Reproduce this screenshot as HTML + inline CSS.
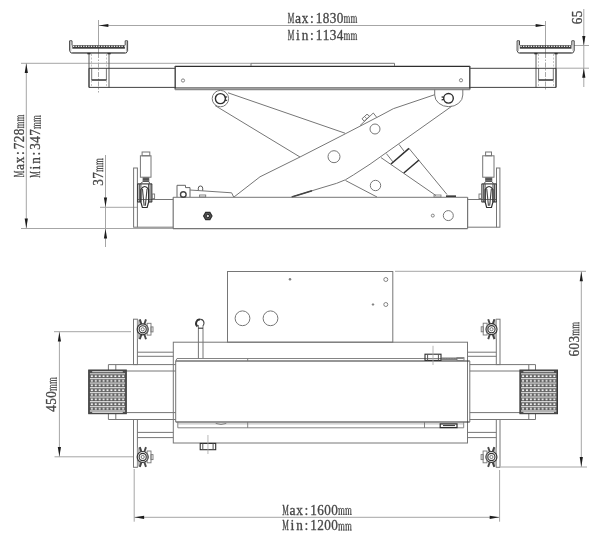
<!DOCTYPE html>
<html><head><meta charset="utf-8"><title>Jack dimensions</title>
<style>html,body{margin:0;padding:0;background:#fff;}body{width:600px;height:544px;overflow:hidden;font-family:"Liberation Serif",serif;}svg{display:block;filter:grayscale(1);}</style>
</head><body>
<svg width="600" height="544" viewBox="0 0 600 544">
<line x1="98.5" y1="20" x2="98.5" y2="53" stroke="#a6a6a6" stroke-width="1"/>
<line x1="545.5" y1="21" x2="545.5" y2="53" stroke="#a6a6a6" stroke-width="1"/>
<line x1="98.5" y1="53" x2="98.5" y2="92.5" stroke="#aaa" stroke-width="1" stroke-dasharray="5 1.5 1.5 1.5"/>
<line x1="545.5" y1="53" x2="545.5" y2="91" stroke="#aaa" stroke-width="1" stroke-dasharray="5 1.5 1.5 1.5"/>
<line x1="91.5" y1="54" x2="91.5" y2="68" stroke="#c4c4c4" stroke-width="1" stroke-dasharray="2 1.5"/>
<line x1="91.5" y1="80.5" x2="91.5" y2="87" stroke="#c4c4c4" stroke-width="1" stroke-dasharray="2 1.5"/>
<line x1="106.5" y1="54" x2="106.5" y2="68" stroke="#c4c4c4" stroke-width="1" stroke-dasharray="2 1.5"/>
<line x1="106.5" y1="80.5" x2="106.5" y2="87" stroke="#c4c4c4" stroke-width="1" stroke-dasharray="2 1.5"/>
<line x1="538.5" y1="54" x2="538.5" y2="68" stroke="#c4c4c4" stroke-width="1" stroke-dasharray="2 1.5"/>
<line x1="538.5" y1="80.5" x2="538.5" y2="87" stroke="#c4c4c4" stroke-width="1" stroke-dasharray="2 1.5"/>
<line x1="553.5" y1="54" x2="553.5" y2="68" stroke="#c4c4c4" stroke-width="1" stroke-dasharray="2 1.5"/>
<line x1="553.5" y1="80.5" x2="553.5" y2="87" stroke="#c4c4c4" stroke-width="1" stroke-dasharray="2 1.5"/>
<line x1="98.5" y1="25.5" x2="545.5" y2="25.5" stroke="#a6a6a6" stroke-width="1"/>
<polygon points="98.8,25.5 108.39999999999999,23.9 108.39999999999999,27.1" fill="#1c1c1c" stroke="none"/>
<polygon points="545.2,25.5 535.6,23.9 535.6,27.1" fill="#1c1c1c" stroke="none"/>
<g transform="translate(287.5,22.5)" fill="#444" stroke="#444" stroke-width="0.3" opacity="0.99" font-family="'Liberation Serif', serif"><text transform="translate(3.50,0) scale(0.546,1)" text-anchor="middle" font-size="13.6">M</text><text transform="translate(10.50,0) scale(1.000,1)" text-anchor="middle" font-size="13.6">a</text><text transform="translate(17.50,0) scale(0.971,1)" text-anchor="middle" font-size="13.6">x</text><text transform="translate(24.50,0) scale(1.000,1)" text-anchor="middle" font-size="13.6">:</text><text transform="translate(31.50,0) scale(0.971,1)" text-anchor="middle" font-size="13.6">1</text><text transform="translate(38.50,0) scale(0.971,1)" text-anchor="middle" font-size="13.6">8</text><text transform="translate(45.50,0) scale(0.971,1)" text-anchor="middle" font-size="13.6">3</text><text transform="translate(52.50,0) scale(0.971,1)" text-anchor="middle" font-size="13.6">0</text><path transform="translate(56.00,0)" d="M0.2,-5.9 L1.2,-6.1 L1.2,0 M1.2,-4.9 Q1.9,-6.3 2.7,-6.2 Q3.5,-6.1 3.5,-4.9 L3.5,0 M3.5,-4.9 Q4.2,-6.3 5,-6.2 Q5.8,-6.1 5.8,-4.9 L5.8,0 M0.3,-0.1 L2.1,-0.1 M2.7,-0.1 L4.3,-0.1 M5,-0.1 L6.7,-0.1" fill="none" stroke="#444" stroke-width="0.95"/><path transform="translate(63.00,0)" d="M0.2,-5.9 L1.2,-6.1 L1.2,0 M1.2,-4.9 Q1.9,-6.3 2.7,-6.2 Q3.5,-6.1 3.5,-4.9 L3.5,0 M3.5,-4.9 Q4.2,-6.3 5,-6.2 Q5.8,-6.1 5.8,-4.9 L5.8,0 M0.3,-0.1 L2.1,-0.1 M2.7,-0.1 L4.3,-0.1 M5,-0.1 L6.7,-0.1" fill="none" stroke="#444" stroke-width="0.95"/></g>
<g transform="translate(287.5,39.7)" fill="#444" stroke="#444" stroke-width="0.3" opacity="0.99" font-family="'Liberation Serif', serif"><text transform="translate(3.50,0) scale(0.546,1)" text-anchor="middle" font-size="13.6">M</text><text transform="translate(10.50,0) scale(1.000,1)" text-anchor="middle" font-size="13.6">i</text><text transform="translate(17.50,0) scale(0.971,1)" text-anchor="middle" font-size="13.6">n</text><text transform="translate(24.50,0) scale(1.000,1)" text-anchor="middle" font-size="13.6">:</text><text transform="translate(31.50,0) scale(0.971,1)" text-anchor="middle" font-size="13.6">1</text><text transform="translate(38.50,0) scale(0.971,1)" text-anchor="middle" font-size="13.6">1</text><text transform="translate(45.50,0) scale(0.971,1)" text-anchor="middle" font-size="13.6">3</text><text transform="translate(52.50,0) scale(0.971,1)" text-anchor="middle" font-size="13.6">4</text><path transform="translate(56.00,0)" d="M0.2,-5.9 L1.2,-6.1 L1.2,0 M1.2,-4.9 Q1.9,-6.3 2.7,-6.2 Q3.5,-6.1 3.5,-4.9 L3.5,0 M3.5,-4.9 Q4.2,-6.3 5,-6.2 Q5.8,-6.1 5.8,-4.9 L5.8,0 M0.3,-0.1 L2.1,-0.1 M2.7,-0.1 L4.3,-0.1 M5,-0.1 L6.7,-0.1" fill="none" stroke="#444" stroke-width="0.95"/><path transform="translate(63.00,0)" d="M0.2,-5.9 L1.2,-6.1 L1.2,0 M1.2,-4.9 Q1.9,-6.3 2.7,-6.2 Q3.5,-6.1 3.5,-4.9 L3.5,0 M3.5,-4.9 Q4.2,-6.3 5,-6.2 Q5.8,-6.1 5.8,-4.9 L5.8,0 M0.3,-0.1 L2.1,-0.1 M2.7,-0.1 L4.3,-0.1 M5,-0.1 L6.7,-0.1" fill="none" stroke="#444" stroke-width="0.95"/></g>
<line x1="21" y1="63.3" x2="251" y2="63.3" stroke="#a6a6a6" stroke-width="1"/>
<line x1="21" y1="228.5" x2="173" y2="228.5" stroke="#a6a6a6" stroke-width="1"/>
<line x1="26.3" y1="63" x2="26.3" y2="228.5" stroke="#a6a6a6" stroke-width="1"/>
<polygon points="26.3,63.5 24.7,73.1 27.900000000000002,73.1" fill="#1c1c1c" stroke="none"/>
<polygon points="26.3,228.2 24.7,218.6 27.900000000000002,218.6" fill="#1c1c1c" stroke="none"/>
<g transform="translate(23.8,177.5) rotate(-90)" fill="#444" stroke="#444" stroke-width="0.3" opacity="0.99" font-family="'Liberation Serif', serif"><text transform="translate(3.50,0) scale(0.546,1)" text-anchor="middle" font-size="13.6">M</text><text transform="translate(10.50,0) scale(1.000,1)" text-anchor="middle" font-size="13.6">a</text><text transform="translate(17.50,0) scale(0.971,1)" text-anchor="middle" font-size="13.6">x</text><text transform="translate(24.50,0) scale(1.000,1)" text-anchor="middle" font-size="13.6">:</text><text transform="translate(31.50,0) scale(0.971,1)" text-anchor="middle" font-size="13.6">7</text><text transform="translate(38.50,0) scale(0.971,1)" text-anchor="middle" font-size="13.6">2</text><text transform="translate(45.50,0) scale(0.971,1)" text-anchor="middle" font-size="13.6">8</text><path transform="translate(49.00,0)" d="M0.2,-5.9 L1.2,-6.1 L1.2,0 M1.2,-4.9 Q1.9,-6.3 2.7,-6.2 Q3.5,-6.1 3.5,-4.9 L3.5,0 M3.5,-4.9 Q4.2,-6.3 5,-6.2 Q5.8,-6.1 5.8,-4.9 L5.8,0 M0.3,-0.1 L2.1,-0.1 M2.7,-0.1 L4.3,-0.1 M5,-0.1 L6.7,-0.1" fill="none" stroke="#444" stroke-width="0.95"/><path transform="translate(56.00,0)" d="M0.2,-5.9 L1.2,-6.1 L1.2,0 M1.2,-4.9 Q1.9,-6.3 2.7,-6.2 Q3.5,-6.1 3.5,-4.9 L3.5,0 M3.5,-4.9 Q4.2,-6.3 5,-6.2 Q5.8,-6.1 5.8,-4.9 L5.8,0 M0.3,-0.1 L2.1,-0.1 M2.7,-0.1 L4.3,-0.1 M5,-0.1 L6.7,-0.1" fill="none" stroke="#444" stroke-width="0.95"/></g>
<g transform="translate(40.4,178) rotate(-90)" fill="#444" stroke="#444" stroke-width="0.3" opacity="0.99" font-family="'Liberation Serif', serif"><text transform="translate(3.50,0) scale(0.546,1)" text-anchor="middle" font-size="13.6">M</text><text transform="translate(10.50,0) scale(1.000,1)" text-anchor="middle" font-size="13.6">i</text><text transform="translate(17.50,0) scale(0.971,1)" text-anchor="middle" font-size="13.6">n</text><text transform="translate(24.50,0) scale(1.000,1)" text-anchor="middle" font-size="13.6">:</text><text transform="translate(31.50,0) scale(0.971,1)" text-anchor="middle" font-size="13.6">3</text><text transform="translate(38.50,0) scale(0.971,1)" text-anchor="middle" font-size="13.6">4</text><text transform="translate(45.50,0) scale(0.971,1)" text-anchor="middle" font-size="13.6">7</text><path transform="translate(49.00,0)" d="M0.2,-5.9 L1.2,-6.1 L1.2,0 M1.2,-4.9 Q1.9,-6.3 2.7,-6.2 Q3.5,-6.1 3.5,-4.9 L3.5,0 M3.5,-4.9 Q4.2,-6.3 5,-6.2 Q5.8,-6.1 5.8,-4.9 L5.8,0 M0.3,-0.1 L2.1,-0.1 M2.7,-0.1 L4.3,-0.1 M5,-0.1 L6.7,-0.1" fill="none" stroke="#444" stroke-width="0.95"/><path transform="translate(56.00,0)" d="M0.2,-5.9 L1.2,-6.1 L1.2,0 M1.2,-4.9 Q1.9,-6.3 2.7,-6.2 Q3.5,-6.1 3.5,-4.9 L3.5,0 M3.5,-4.9 Q4.2,-6.3 5,-6.2 Q5.8,-6.1 5.8,-4.9 L5.8,0 M0.3,-0.1 L2.1,-0.1 M2.7,-0.1 L4.3,-0.1 M5,-0.1 L6.7,-0.1" fill="none" stroke="#444" stroke-width="0.95"/></g>
<line x1="105.5" y1="155" x2="105.5" y2="247" stroke="#a6a6a6" stroke-width="1"/>
<line x1="100" y1="207.3" x2="137.5" y2="207.3" stroke="#a6a6a6" stroke-width="1"/>
<polygon points="105.5,207 103.9,197.4 107.1,197.4" fill="#1c1c1c" stroke="none"/>
<polygon points="105.5,228.8 103.9,238.4 107.1,238.4" fill="#1c1c1c" stroke="none"/>
<g transform="translate(102.9,186) rotate(-90)" fill="#444" stroke="#444" stroke-width="0.3" opacity="0.99" font-family="'Liberation Serif', serif"><text transform="translate(3.50,0) scale(0.971,1)" text-anchor="middle" font-size="13.6">3</text><text transform="translate(10.50,0) scale(0.971,1)" text-anchor="middle" font-size="13.6">7</text><path transform="translate(14.00,0)" d="M0.2,-5.9 L1.2,-6.1 L1.2,0 M1.2,-4.9 Q1.9,-6.3 2.7,-6.2 Q3.5,-6.1 3.5,-4.9 L3.5,0 M3.5,-4.9 Q4.2,-6.3 5,-6.2 Q5.8,-6.1 5.8,-4.9 L5.8,0 M0.3,-0.1 L2.1,-0.1 M2.7,-0.1 L4.3,-0.1 M5,-0.1 L6.7,-0.1" fill="none" stroke="#444" stroke-width="0.95"/><path transform="translate(21.00,0)" d="M0.2,-5.9 L1.2,-6.1 L1.2,0 M1.2,-4.9 Q1.9,-6.3 2.7,-6.2 Q3.5,-6.1 3.5,-4.9 L3.5,0 M3.5,-4.9 Q4.2,-6.3 5,-6.2 Q5.8,-6.1 5.8,-4.9 L5.8,0 M0.3,-0.1 L2.1,-0.1 M2.7,-0.1 L4.3,-0.1 M5,-0.1 L6.7,-0.1" fill="none" stroke="#444" stroke-width="0.95"/></g>
<line x1="583.8" y1="9" x2="583.8" y2="87" stroke="#a6a6a6" stroke-width="1"/>
<line x1="574" y1="45.5" x2="589" y2="45.5" stroke="#a6a6a6" stroke-width="1"/>
<line x1="556" y1="68.2" x2="589" y2="68.2" stroke="#a6a6a6" stroke-width="1"/>
<polygon points="583.8,45.6 582.1999999999999,36.0 585.4,36.0" fill="#1c1c1c" stroke="none"/>
<polygon points="583.8,68.2 582.1999999999999,77.8 585.4,77.8" fill="#1c1c1c" stroke="none"/>
<g transform="translate(581.5,24.5) rotate(-90)" fill="#444" stroke="#444" stroke-width="0.3" opacity="0.99" font-family="'Liberation Serif', serif"><text transform="translate(3.50,0) scale(0.971,1)" text-anchor="middle" font-size="13.6">6</text><text transform="translate(10.50,0) scale(0.971,1)" text-anchor="middle" font-size="13.6">5</text></g>
<polyline points="72.0,45.3 72.0,40.8 69.60000000000001,40.8 69.60000000000001,50.8 71.0,53 126.2,53 127.6,50.8 127.6,40.8 125.2,40.8 125.2,45.3" fill="none" stroke="#444" stroke-width="1.0" stroke-linejoin="round"/>
<line x1="70.80000000000001" y1="41.5" x2="70.80000000000001" y2="51" stroke="#999" stroke-width="0.8"/>
<line x1="126.39999999999999" y1="41.5" x2="126.39999999999999" y2="51" stroke="#999" stroke-width="0.8"/>
<rect x="72.30000000000001" y="45.2" width="52.599999999999994" height="3.5" fill="#3c3c3c" stroke="none"/>
<line x1="73.0" y1="46.4" x2="124.6" y2="46.4" stroke="#eee" stroke-width="1.1" stroke-dasharray="1.3 1.25"/>
<line x1="72.30000000000001" y1="52.9" x2="124.89999999999999" y2="52.9" stroke="#333" stroke-width="0.6"/>
<polyline points="519.5,45.3 519.5,40.8 517.1,40.8 517.1,50.8 518.5,53 572.8,53 574.1999999999999,50.8 574.1999999999999,40.8 571.8,40.8 571.8,45.3" fill="none" stroke="#444" stroke-width="1.0" stroke-linejoin="round"/>
<line x1="518.3" y1="41.5" x2="518.3" y2="51" stroke="#999" stroke-width="0.8"/>
<line x1="573.0" y1="41.5" x2="573.0" y2="51" stroke="#999" stroke-width="0.8"/>
<rect x="519.8" y="45.2" width="51.7" height="3.5" fill="#3c3c3c" stroke="none"/>
<line x1="520.5" y1="46.4" x2="571.1999999999999" y2="46.4" stroke="#eee" stroke-width="1.1" stroke-dasharray="1.3 1.25"/>
<line x1="519.8" y1="52.9" x2="571.5" y2="52.9" stroke="#333" stroke-width="0.6"/>
<line x1="89" y1="53" x2="89" y2="87.5" stroke="#5a5a5a" stroke-width="1"/>
<line x1="109" y1="53" x2="109" y2="87.5" stroke="#5a5a5a" stroke-width="1"/>
<line x1="87.3" y1="53.6" x2="90.5" y2="53.6" stroke="#2e2e2e" stroke-width="1.4"/>
<line x1="107.5" y1="53.6" x2="110.7" y2="53.6" stroke="#2e2e2e" stroke-width="1.4"/>
<polyline points="91.7,68.3 91.7,80 106.4,80 106.4,68.3" fill="none" stroke="#767676" stroke-width="1" stroke-linejoin="round"/>
<line x1="91.7" y1="80" x2="106.4" y2="80" stroke="#2e2e2e" stroke-width="1.2"/>
<line x1="89" y1="68.3" x2="175" y2="68.3" stroke="#2e2e2e" stroke-width="0.9"/>
<line x1="89" y1="87.4" x2="175" y2="87.4" stroke="#2e2e2e" stroke-width="0.9"/>
<line x1="89" y1="68.3" x2="89" y2="87.4" stroke="#2e2e2e" stroke-width="0.9"/>
<line x1="536" y1="53" x2="536" y2="87.5" stroke="#5a5a5a" stroke-width="1"/>
<line x1="556" y1="53" x2="556" y2="87.5" stroke="#5a5a5a" stroke-width="1"/>
<line x1="534.3" y1="53.6" x2="537.5" y2="53.6" stroke="#2e2e2e" stroke-width="1.4"/>
<line x1="554.5" y1="53.6" x2="557.7" y2="53.6" stroke="#2e2e2e" stroke-width="1.4"/>
<polyline points="538.6,68.3 538.6,80 553.3,80 553.3,68.3" fill="none" stroke="#767676" stroke-width="1" stroke-linejoin="round"/>
<line x1="538.6" y1="80" x2="553.3" y2="80" stroke="#2e2e2e" stroke-width="1.2"/>
<line x1="470" y1="68.3" x2="556" y2="68.3" stroke="#2e2e2e" stroke-width="0.9"/>
<line x1="470" y1="87.4" x2="556" y2="87.4" stroke="#2e2e2e" stroke-width="0.9"/>
<line x1="556" y1="68.3" x2="556" y2="87.4" stroke="#2e2e2e" stroke-width="0.9"/>
<line x1="175" y1="66.3" x2="470" y2="66.3" stroke="#2e2e2e" stroke-width="1.3"/>
<line x1="175.2" y1="66" x2="175.2" y2="89.5" stroke="#444" stroke-width="1.4"/>
<line x1="469.8" y1="66" x2="469.8" y2="89.5" stroke="#444" stroke-width="1.4"/>
<line x1="175" y1="87.9" x2="470" y2="87.9" stroke="#2e2e2e" stroke-width="0.9"/>
<line x1="175" y1="89.4" x2="470" y2="89.4" stroke="#888" stroke-width="1.8"/>
<polyline points="251,66 251,63.3 394.5,63.3 394.5,66" fill="none" stroke="#767676" stroke-width="1" stroke-linejoin="round"/>
<circle cx="183" cy="80.5" r="1.6" fill="none" stroke="#767676" stroke-width="0.9"/>
<circle cx="461" cy="80.3" r="1.6" fill="none" stroke="#767676" stroke-width="0.9"/>
<circle cx="220.4" cy="98.6" r="8.2" fill="none" stroke="#767676" stroke-width="1"/>
<circle cx="220.4" cy="98.6" r="5" fill="none" stroke="#2e2e2e" stroke-width="1.4"/>
<line x1="224.8" y1="97.2" x2="227" y2="96.9" stroke="#2e2e2e" stroke-width="1.1"/>
<line x1="224.8" y1="100.2" x2="227" y2="100.4" stroke="#2e2e2e" stroke-width="1.1"/>
<path d="M434.7,89.5 L434.7,95 A14.05,11.7 0 0 0 462.8,95 L462.8,89.5" fill="none" stroke="#767676" stroke-width="1"/>
<line x1="441.6" y1="96.8" x2="444" y2="97.3" stroke="#2e2e2e" stroke-width="1.2"/>
<line x1="441.6" y1="99.8" x2="444" y2="99.4" stroke="#2e2e2e" stroke-width="1.2"/>
<circle cx="448.5" cy="98.3" r="4.8" fill="none" stroke="#2e2e2e" stroke-width="1.4"/>
<line x1="228" y1="92.8" x2="345" y2="133.2" stroke="#767676" stroke-width="1"/>
<line x1="215" y1="105.5" x2="300" y2="157" stroke="#767676" stroke-width="1"/>
<line x1="345.5" y1="180.5" x2="377" y2="197" stroke="#767676" stroke-width="1"/>
<polyline points="234,197 260,176.8 300,157 343,135 380,115.8 393.3,108.7 434.7,94.7" fill="none" stroke="#767676" stroke-width="1" stroke-linejoin="round"/>
<path d="M291.7,197 L320,188.3 L336.7,183.3 Q346,180.3 353.3,175 L370,164.2 L451.7,106.3" fill="none" stroke="#767676" stroke-width="1"/>
<line x1="291.7" y1="197" x2="312" y2="190.8" stroke="#444" stroke-width="1.5"/>
<circle cx="334" cy="156.7" r="6" fill="none" stroke="#767676" stroke-width="1"/>
<circle cx="375" cy="129" r="5" fill="none" stroke="#767676" stroke-width="1"/>
<circle cx="375.5" cy="185.5" r="5.2" fill="none" stroke="#767676" stroke-width="1"/>
<polyline points="360,125.6 373.3,113 376.7,117.3" fill="none" stroke="#767676" stroke-width="1" stroke-linejoin="round"/>
<polygon points="362,118.75 367,114.2 369.6,116.25 364.2,121.25" fill="none" stroke="#767676" stroke-width="1" stroke-linejoin="round"/>
<line x1="364.5" y1="116.5" x2="366.9" y2="118.8" stroke="#767676" stroke-width="0.8"/>
<line x1="381" y1="157.6" x2="436" y2="195.6" stroke="#767676" stroke-width="1"/>
<line x1="409" y1="148.4" x2="447" y2="194.5" stroke="#767676" stroke-width="1"/>
<line x1="391" y1="164" x2="409" y2="148.4" stroke="#2e2e2e" stroke-width="1.5"/>
<line x1="403.8" y1="173" x2="419" y2="160" stroke="#2e2e2e" stroke-width="1.5"/>
<line x1="386.4" y1="153.6" x2="393" y2="162" stroke="#767676" stroke-width="1"/>
<line x1="399" y1="144.4" x2="404.3" y2="151.5" stroke="#767676" stroke-width="1"/>
<rect x="434" y="195" width="7" height="2" fill="none" stroke="#767676" stroke-width="0.8"/>
<line x1="446" y1="196.2" x2="456" y2="196.2" stroke="#2e2e2e" stroke-width="1.6"/>
<line x1="173" y1="197.3" x2="467.6" y2="197.3" stroke="#767676" stroke-width="1"/>
<line x1="173" y1="228.6" x2="467.6" y2="228.6" stroke="#767676" stroke-width="1.2"/>
<line x1="173.2" y1="197.3" x2="173.2" y2="228.6" stroke="#767676" stroke-width="1.2"/>
<line x1="467.6" y1="197.3" x2="467.6" y2="228.6" stroke="#767676" stroke-width="1.2"/>
<circle cx="448.3" cy="215.6" r="5" fill="none" stroke="#767676" stroke-width="1"/>
<circle cx="432.8" cy="215.6" r="1.5" fill="none" stroke="#767676" stroke-width="0.9"/>
<g transform="translate(207.8,216)"><polygon points="4.2,0 2.1,3.6 -2.1,3.6 -4.2,0 -2.1,-3.6 2.1,-3.6" fill="#555" stroke="#2e2e2e" stroke-width="1.2"/><circle r="1.7" fill="#ddd" stroke="#222" stroke-width="1"/></g>
<polyline points="177,197 177,185.3 185.5,185.3 185.5,187.6 190,187.6 190,197" fill="none" stroke="#666" stroke-width="1" stroke-linejoin="round"/>
<circle cx="183.3" cy="194.5" r="2.8" fill="none" stroke="#444" stroke-width="1.4"/>
<path d="M198.3,190.6 L198.3,188.2 A2.2,2.2 0 0 1 202.7,188.2 L202.7,190.9" fill="none" stroke="#555" stroke-width="1"/>
<polyline points="190,190 231.6,192.8 233.7,197" fill="none" stroke="#767676" stroke-width="1" stroke-linejoin="round"/>
<rect x="199.6" y="195" width="6.099999999999994" height="2" fill="none" stroke="#767676" stroke-width="0.9"/>
<rect x="133.6" y="168" width="3.8000000000000114" height="59.19999999999999" fill="none" stroke="#767676" stroke-width="1"/>
<line x1="137.4" y1="199.5" x2="173.2" y2="199.5" stroke="#767676" stroke-width="1"/>
<line x1="137.4" y1="227.2" x2="173.2" y2="227.2" stroke="#767676" stroke-width="1"/>
<line x1="137.4" y1="183.9" x2="152.1" y2="183.9" stroke="#2e2e2e" stroke-width="1.1"/>
<line x1="137.70000000000002" y1="183.9" x2="137.70000000000002" y2="202" stroke="#333" stroke-width="1.1"/>
<line x1="151.79999999999998" y1="183.9" x2="151.79999999999998" y2="202" stroke="#333" stroke-width="1.1"/>
<line x1="139.4" y1="183.9" x2="139.4" y2="202" stroke="#555" stroke-width="1.0"/>
<line x1="150.1" y1="183.9" x2="150.1" y2="202" stroke="#555" stroke-width="1.0"/>
<line x1="140.9" y1="183.9" x2="140.9" y2="202" stroke="#444" stroke-width="1.0"/>
<line x1="148.6" y1="183.9" x2="148.6" y2="202" stroke="#444" stroke-width="1.0"/>
<line x1="137.4" y1="202" x2="140.9" y2="202" stroke="#2e2e2e" stroke-width="1"/>
<line x1="148.6" y1="202" x2="152.1" y2="202" stroke="#2e2e2e" stroke-width="1"/>
<path d="M140.85,202 L140.85,189.5 Q144.75,183.5 148.65,189.5 L148.65,202 L147.15,207.5 L142.35,207.5 Z" fill="none" stroke="#2e2e2e" stroke-width="1.2"/>
<line x1="142.45" y1="189" x2="144.15" y2="205.8" stroke="#444" stroke-width="1.1"/>
<line x1="147.05" y1="189" x2="145.35" y2="205.8" stroke="#444" stroke-width="1.1"/>
<polyline points="142.7,182 139.9,183.9" fill="none" stroke="#555" stroke-width="1" stroke-linejoin="round"/>
<polyline points="149.2,182 149.6,183.9" fill="none" stroke="#555" stroke-width="1" stroke-linejoin="round"/>
<rect x="142.7" y="177.4" width="6.5" height="4.4" fill="#333" stroke="none"/>
<line x1="142.7" y1="178.9" x2="149.2" y2="178.9" stroke="#bbb" stroke-width="0.5"/>
<line x1="142.7" y1="180.4" x2="149.2" y2="180.4" stroke="#bbb" stroke-width="0.5"/>
<rect x="140.4" y="155.8" width="10.599999999999994" height="21.399999999999977" fill="none" stroke="#767676" stroke-width="1"/>
<rect x="142.1" y="152" width="7.700000000000017" height="3.8000000000000114" fill="none" stroke="#767676" stroke-width="1"/>
<rect x="152.1" y="194" width="2.5" height="4.599999999999994" fill="none" stroke="#767676" stroke-width="0.9"/>
<rect x="496.5" y="168" width="3.3999999999999773" height="59.19999999999999" fill="none" stroke="#767676" stroke-width="1"/>
<line x1="467.6" y1="199.5" x2="496.5" y2="199.5" stroke="#767676" stroke-width="1"/>
<line x1="467.6" y1="227.2" x2="496.5" y2="227.2" stroke="#767676" stroke-width="1"/>
<line x1="481.6" y1="183.9" x2="496.5" y2="183.9" stroke="#2e2e2e" stroke-width="1.1"/>
<line x1="481.90000000000003" y1="183.9" x2="481.90000000000003" y2="202" stroke="#333" stroke-width="1.1"/>
<line x1="496.2" y1="183.9" x2="496.2" y2="202" stroke="#333" stroke-width="1.1"/>
<line x1="483.6" y1="183.9" x2="483.6" y2="202" stroke="#555" stroke-width="1.0"/>
<line x1="494.5" y1="183.9" x2="494.5" y2="202" stroke="#555" stroke-width="1.0"/>
<line x1="485.1" y1="183.9" x2="485.1" y2="202" stroke="#444" stroke-width="1.0"/>
<line x1="493.0" y1="183.9" x2="493.0" y2="202" stroke="#444" stroke-width="1.0"/>
<line x1="481.6" y1="202" x2="485.1" y2="202" stroke="#2e2e2e" stroke-width="1"/>
<line x1="493.0" y1="202" x2="496.5" y2="202" stroke="#2e2e2e" stroke-width="1"/>
<path d="M485.15000000000003,202 L485.15000000000003,189.5 Q489.05,183.5 492.95,189.5 L492.95,202 L491.45,207.5 L486.65000000000003,207.5 Z" fill="none" stroke="#2e2e2e" stroke-width="1.2"/>
<line x1="486.75" y1="189" x2="488.45" y2="205.8" stroke="#444" stroke-width="1.1"/>
<line x1="491.35" y1="189" x2="489.65000000000003" y2="205.8" stroke="#444" stroke-width="1.1"/>
<polyline points="485.2,182 484.1,183.9" fill="none" stroke="#555" stroke-width="1" stroke-linejoin="round"/>
<polyline points="492.2,182 494.0,183.9" fill="none" stroke="#555" stroke-width="1" stroke-linejoin="round"/>
<rect x="485.2" y="177.4" width="7.0" height="4.4" fill="#333" stroke="none"/>
<line x1="485.2" y1="178.9" x2="492.2" y2="178.9" stroke="#bbb" stroke-width="0.5"/>
<line x1="485.2" y1="180.4" x2="492.2" y2="180.4" stroke="#bbb" stroke-width="0.5"/>
<rect x="482.7" y="155.8" width="11.300000000000011" height="21.399999999999977" fill="none" stroke="#767676" stroke-width="1"/>
<rect x="485.6" y="152" width="5.899999999999977" height="3.8000000000000114" fill="none" stroke="#767676" stroke-width="1"/>
<rect x="479" y="194" width="2.6000000000000227" height="4.599999999999994" fill="none" stroke="#767676" stroke-width="0.9"/>
<line x1="54" y1="331.7" x2="131" y2="331.7" stroke="#a6a6a6" stroke-width="1"/>
<line x1="54.5" y1="456.8" x2="133" y2="456.8" stroke="#a6a6a6" stroke-width="1"/>
<line x1="59.4" y1="331.7" x2="59.4" y2="456.8" stroke="#a6a6a6" stroke-width="1"/>
<polygon points="59.4,332 57.8,341.6 61.0,341.6" fill="#1c1c1c" stroke="none"/>
<polygon points="59.4,456.5 57.8,446.9 61.0,446.9" fill="#1c1c1c" stroke="none"/>
<g transform="translate(56.4,412) rotate(-90)" fill="#444" stroke="#444" stroke-width="0.3" opacity="0.99" font-family="'Liberation Serif', serif"><text transform="translate(3.50,0) scale(0.971,1)" text-anchor="middle" font-size="13.6">4</text><text transform="translate(10.50,0) scale(0.971,1)" text-anchor="middle" font-size="13.6">5</text><text transform="translate(17.50,0) scale(0.971,1)" text-anchor="middle" font-size="13.6">0</text><path transform="translate(21.00,0)" d="M0.2,-5.9 L1.2,-6.1 L1.2,0 M1.2,-4.9 Q1.9,-6.3 2.7,-6.2 Q3.5,-6.1 3.5,-4.9 L3.5,0 M3.5,-4.9 Q4.2,-6.3 5,-6.2 Q5.8,-6.1 5.8,-4.9 L5.8,0 M0.3,-0.1 L2.1,-0.1 M2.7,-0.1 L4.3,-0.1 M5,-0.1 L6.7,-0.1" fill="none" stroke="#444" stroke-width="0.95"/><path transform="translate(28.00,0)" d="M0.2,-5.9 L1.2,-6.1 L1.2,0 M1.2,-4.9 Q1.9,-6.3 2.7,-6.2 Q3.5,-6.1 3.5,-4.9 L3.5,0 M3.5,-4.9 Q4.2,-6.3 5,-6.2 Q5.8,-6.1 5.8,-4.9 L5.8,0 M0.3,-0.1 L2.1,-0.1 M2.7,-0.1 L4.3,-0.1 M5,-0.1 L6.7,-0.1" fill="none" stroke="#444" stroke-width="0.95"/></g>
<line x1="395" y1="271.3" x2="586" y2="271.3" stroke="#a6a6a6" stroke-width="1"/>
<line x1="501" y1="467" x2="587" y2="467" stroke="#a6a6a6" stroke-width="1"/>
<line x1="581.3" y1="271.3" x2="581.3" y2="467" stroke="#a6a6a6" stroke-width="1"/>
<polygon points="581.3,271.6 579.6999999999999,281.20000000000005 582.9,281.20000000000005" fill="#1c1c1c" stroke="none"/>
<polygon points="581.3,466.7 579.6999999999999,457.09999999999997 582.9,457.09999999999997" fill="#1c1c1c" stroke="none"/>
<g transform="translate(579,356.8) rotate(-90)" fill="#444" stroke="#444" stroke-width="0.3" opacity="0.99" font-family="'Liberation Serif', serif"><text transform="translate(3.50,0) scale(0.971,1)" text-anchor="middle" font-size="13.6">6</text><text transform="translate(10.50,0) scale(0.971,1)" text-anchor="middle" font-size="13.6">0</text><text transform="translate(17.50,0) scale(0.971,1)" text-anchor="middle" font-size="13.6">3</text><path transform="translate(21.00,0)" d="M0.2,-5.9 L1.2,-6.1 L1.2,0 M1.2,-4.9 Q1.9,-6.3 2.7,-6.2 Q3.5,-6.1 3.5,-4.9 L3.5,0 M3.5,-4.9 Q4.2,-6.3 5,-6.2 Q5.8,-6.1 5.8,-4.9 L5.8,0 M0.3,-0.1 L2.1,-0.1 M2.7,-0.1 L4.3,-0.1 M5,-0.1 L6.7,-0.1" fill="none" stroke="#444" stroke-width="0.95"/><path transform="translate(28.00,0)" d="M0.2,-5.9 L1.2,-6.1 L1.2,0 M1.2,-4.9 Q1.9,-6.3 2.7,-6.2 Q3.5,-6.1 3.5,-4.9 L3.5,0 M3.5,-4.9 Q4.2,-6.3 5,-6.2 Q5.8,-6.1 5.8,-4.9 L5.8,0 M0.3,-0.1 L2.1,-0.1 M2.7,-0.1 L4.3,-0.1 M5,-0.1 L6.7,-0.1" fill="none" stroke="#444" stroke-width="0.95"/></g>
<line x1="134.2" y1="469" x2="134.2" y2="521.7" stroke="#a6a6a6" stroke-width="1"/>
<line x1="499.6" y1="470" x2="499.6" y2="521.7" stroke="#a6a6a6" stroke-width="1"/>
<line x1="134.2" y1="517.3" x2="499.6" y2="517.3" stroke="#a6a6a6" stroke-width="1"/>
<polygon points="134.5,517.3 144.1,515.6999999999999 144.1,518.9" fill="#1c1c1c" stroke="none"/>
<polygon points="499.3,517.3 489.7,515.6999999999999 489.7,518.9" fill="#1c1c1c" stroke="none"/>
<g transform="translate(282,514.5)" fill="#444" stroke="#444" stroke-width="0.3" opacity="0.99" font-family="'Liberation Serif', serif"><text transform="translate(3.50,0) scale(0.546,1)" text-anchor="middle" font-size="13.6">M</text><text transform="translate(10.50,0) scale(1.000,1)" text-anchor="middle" font-size="13.6">a</text><text transform="translate(17.50,0) scale(0.971,1)" text-anchor="middle" font-size="13.6">x</text><text transform="translate(24.50,0) scale(1.000,1)" text-anchor="middle" font-size="13.6">:</text><text transform="translate(31.50,0) scale(0.971,1)" text-anchor="middle" font-size="13.6">1</text><text transform="translate(38.50,0) scale(0.971,1)" text-anchor="middle" font-size="13.6">6</text><text transform="translate(45.50,0) scale(0.971,1)" text-anchor="middle" font-size="13.6">0</text><text transform="translate(52.50,0) scale(0.971,1)" text-anchor="middle" font-size="13.6">0</text><path transform="translate(56.00,0)" d="M0.2,-5.9 L1.2,-6.1 L1.2,0 M1.2,-4.9 Q1.9,-6.3 2.7,-6.2 Q3.5,-6.1 3.5,-4.9 L3.5,0 M3.5,-4.9 Q4.2,-6.3 5,-6.2 Q5.8,-6.1 5.8,-4.9 L5.8,0 M0.3,-0.1 L2.1,-0.1 M2.7,-0.1 L4.3,-0.1 M5,-0.1 L6.7,-0.1" fill="none" stroke="#444" stroke-width="0.95"/><path transform="translate(63.00,0)" d="M0.2,-5.9 L1.2,-6.1 L1.2,0 M1.2,-4.9 Q1.9,-6.3 2.7,-6.2 Q3.5,-6.1 3.5,-4.9 L3.5,0 M3.5,-4.9 Q4.2,-6.3 5,-6.2 Q5.8,-6.1 5.8,-4.9 L5.8,0 M0.3,-0.1 L2.1,-0.1 M2.7,-0.1 L4.3,-0.1 M5,-0.1 L6.7,-0.1" fill="none" stroke="#444" stroke-width="0.95"/></g>
<g transform="translate(282,530.2)" fill="#444" stroke="#444" stroke-width="0.3" opacity="0.99" font-family="'Liberation Serif', serif"><text transform="translate(3.50,0) scale(0.546,1)" text-anchor="middle" font-size="13.6">M</text><text transform="translate(10.50,0) scale(1.000,1)" text-anchor="middle" font-size="13.6">i</text><text transform="translate(17.50,0) scale(0.971,1)" text-anchor="middle" font-size="13.6">n</text><text transform="translate(24.50,0) scale(1.000,1)" text-anchor="middle" font-size="13.6">:</text><text transform="translate(31.50,0) scale(0.971,1)" text-anchor="middle" font-size="13.6">1</text><text transform="translate(38.50,0) scale(0.971,1)" text-anchor="middle" font-size="13.6">2</text><text transform="translate(45.50,0) scale(0.971,1)" text-anchor="middle" font-size="13.6">0</text><text transform="translate(52.50,0) scale(0.971,1)" text-anchor="middle" font-size="13.6">0</text><path transform="translate(56.00,0)" d="M0.2,-5.9 L1.2,-6.1 L1.2,0 M1.2,-4.9 Q1.9,-6.3 2.7,-6.2 Q3.5,-6.1 3.5,-4.9 L3.5,0 M3.5,-4.9 Q4.2,-6.3 5,-6.2 Q5.8,-6.1 5.8,-4.9 L5.8,0 M0.3,-0.1 L2.1,-0.1 M2.7,-0.1 L4.3,-0.1 M5,-0.1 L6.7,-0.1" fill="none" stroke="#444" stroke-width="0.95"/><path transform="translate(63.00,0)" d="M0.2,-5.9 L1.2,-6.1 L1.2,0 M1.2,-4.9 Q1.9,-6.3 2.7,-6.2 Q3.5,-6.1 3.5,-4.9 L3.5,0 M3.5,-4.9 Q4.2,-6.3 5,-6.2 Q5.8,-6.1 5.8,-4.9 L5.8,0 M0.3,-0.1 L2.1,-0.1 M2.7,-0.1 L4.3,-0.1 M5,-0.1 L6.7,-0.1" fill="none" stroke="#444" stroke-width="0.95"/></g>
<rect x="227.5" y="271.5" width="165.3" height="70.69999999999999" fill="none" stroke="#767676" stroke-width="1"/>
<circle cx="242.5" cy="318.3" r="7.4" fill="none" stroke="#767676" stroke-width="1"/>
<circle cx="270.5" cy="318.3" r="7.4" fill="none" stroke="#767676" stroke-width="1"/>
<circle cx="290" cy="279.3" r="0.9" fill="#767676" stroke="#767676" stroke-width="0.9"/>
<circle cx="385.8" cy="279.5" r="2" fill="none" stroke="#767676" stroke-width="0.9"/>
<circle cx="385.8" cy="304.5" r="2" fill="none" stroke="#767676" stroke-width="0.9"/>
<circle cx="373" cy="304.5" r="0.8" fill="#767676" stroke="#767676" stroke-width="0.8"/>
<rect x="173.3" y="342.2" width="294.2" height="100.80000000000001" fill="none" stroke="#767676" stroke-width="1"/>
<line x1="177" y1="358.5" x2="463.7" y2="358.5" stroke="#767676" stroke-width="0.9"/>
<line x1="175.7" y1="361" x2="469.8" y2="361" stroke="#2e2e2e" stroke-width="1.1"/>
<line x1="175.7" y1="422" x2="469.8" y2="422" stroke="#2e2e2e" stroke-width="1.1"/>
<line x1="175.7" y1="361" x2="175.7" y2="422" stroke="#767676" stroke-width="1"/>
<line x1="469.8" y1="361" x2="469.8" y2="422" stroke="#767676" stroke-width="1"/>
<line x1="177" y1="358.5" x2="175.7" y2="361" stroke="#767676" stroke-width="0.9"/>
<polyline points="177.8,422 177.8,427.8 463.7,427.8 463.7,422" fill="none" stroke="#767676" stroke-width="0.9" stroke-linejoin="round"/>
<line x1="177.8" y1="423.9" x2="463.7" y2="423.9" stroke="#999" stroke-width="0.7"/>
<line x1="247.7" y1="358.5" x2="247.7" y2="361" stroke="#767676" stroke-width="0.9"/>
<line x1="247.7" y1="422" x2="247.7" y2="427.8" stroke="#767676" stroke-width="0.9"/>
<line x1="424.5" y1="422" x2="424.5" y2="427.8" stroke="#767676" stroke-width="0.9"/>
<path d="M215.7,423.4 Q221,425.6 226.3,423.4" fill="none" stroke="#767676" stroke-width="0.9"/>
<line x1="198.4" y1="325" x2="198.4" y2="358.5" stroke="#767676" stroke-width="1"/>
<line x1="203" y1="325" x2="203" y2="358.5" stroke="#767676" stroke-width="1"/>
<path d="M197.5,326.5 A3.4,3.8 0 0 1 200.3,319.7" fill="none" stroke="#333" stroke-width="1.9"/>
<path d="M200.3,319.5 A3.3,3.8 0 0 1 203.4,325.5" fill="none" stroke="#444" stroke-width="1.2"/>
<line x1="198.2" y1="328.2" x2="203" y2="328.2" stroke="#333" stroke-width="1.1"/>
<rect x="425" y="354.2" width="16" height="6.199999999999989" fill="none" stroke="#2e2e2e" stroke-width="1.1"/>
<line x1="427.6" y1="354.2" x2="427.6" y2="360.4" stroke="#555" stroke-width="1"/>
<line x1="438.4" y1="354.2" x2="438.4" y2="360.4" stroke="#555" stroke-width="1"/>
<line x1="433.0" y1="345.8" x2="433.0" y2="365" stroke="#a6a6a6" stroke-width="0.8"/>
<line x1="441" y1="358" x2="457" y2="358" stroke="#666" stroke-width="0.9"/>
<line x1="441" y1="359.6" x2="457" y2="359.6" stroke="#666" stroke-width="0.9"/>
<line x1="442" y1="358.8" x2="456" y2="358.8" stroke="#888" stroke-width="1.4" stroke-dasharray="0.8 0.8"/>
<rect x="457" y="357.6" width="7" height="2.7999999999999545" fill="none" stroke="#767676" stroke-width="0.9"/>
<rect x="200.2" y="443.4" width="15.5" height="6.300000000000011" fill="none" stroke="#2e2e2e" stroke-width="1.1"/>
<line x1="202.79999999999998" y1="443.4" x2="202.79999999999998" y2="449.7" stroke="#555" stroke-width="1"/>
<line x1="213.1" y1="443.4" x2="213.1" y2="449.7" stroke="#555" stroke-width="1"/>
<line x1="207.95" y1="435" x2="207.95" y2="454" stroke="#a6a6a6" stroke-width="0.8"/>
<rect x="440.2" y="423.9" width="16.80000000000001" height="3.7000000000000455" fill="none" stroke="#2e2e2e" stroke-width="1.2"/>
<line x1="443" y1="425.6" x2="455" y2="425.6" stroke="#2e2e2e" stroke-width="1"/>
<rect x="133.5" y="319.2" width="3.9000000000000057" height="45.400000000000034" fill="none" stroke="#767676" stroke-width="1"/>
<rect x="133.5" y="419.5" width="3.9000000000000057" height="47.80000000000001" fill="none" stroke="#767676" stroke-width="1"/>
<line x1="137.4" y1="352.2" x2="173.3" y2="352.2" stroke="#767676" stroke-width="1"/>
<line x1="137.4" y1="356.3" x2="173.3" y2="356.3" stroke="#767676" stroke-width="1"/>
<line x1="137.4" y1="432.4" x2="173.3" y2="432.4" stroke="#767676" stroke-width="1"/>
<line x1="137.4" y1="437.6" x2="173.3" y2="437.6" stroke="#767676" stroke-width="1"/>
<polyline points="175.7,364.6 108.4,364.6 108.4,370.3" fill="none" stroke="#767676" stroke-width="1" stroke-linejoin="round"/>
<polyline points="175.7,419.5 108.4,419.5 108.4,413.8" fill="none" stroke="#767676" stroke-width="1" stroke-linejoin="round"/>
<line x1="115.8" y1="364.6" x2="115.8" y2="370.3" stroke="#767676" stroke-width="1"/>
<line x1="115.8" y1="419.5" x2="115.8" y2="413.8" stroke="#767676" stroke-width="1"/>
<line x1="126.4" y1="371" x2="175.7" y2="371" stroke="#767676" stroke-width="1"/>
<line x1="126.4" y1="412.6" x2="175.7" y2="412.6" stroke="#767676" stroke-width="1"/>
<rect x="496.3" y="319.2" width="3.6999999999999886" height="45.400000000000034" fill="none" stroke="#767676" stroke-width="1"/>
<rect x="496.3" y="419.5" width="3.6999999999999886" height="47.80000000000001" fill="none" stroke="#767676" stroke-width="1"/>
<line x1="496.3" y1="352.2" x2="467.5" y2="352.2" stroke="#767676" stroke-width="1"/>
<line x1="496.3" y1="356.3" x2="467.5" y2="356.3" stroke="#767676" stroke-width="1"/>
<line x1="496.3" y1="432.4" x2="467.5" y2="432.4" stroke="#767676" stroke-width="1"/>
<line x1="496.3" y1="437.6" x2="467.5" y2="437.6" stroke="#767676" stroke-width="1"/>
<polyline points="469.8,364.6 535.5,364.6 535.5,370.3" fill="none" stroke="#767676" stroke-width="1" stroke-linejoin="round"/>
<polyline points="469.8,419.5 535.5,419.5 535.5,413.8" fill="none" stroke="#767676" stroke-width="1" stroke-linejoin="round"/>
<line x1="528.8" y1="364.6" x2="528.8" y2="370.3" stroke="#767676" stroke-width="1"/>
<line x1="528.8" y1="419.5" x2="528.8" y2="413.8" stroke="#767676" stroke-width="1"/>
<line x1="520" y1="371" x2="469.8" y2="371" stroke="#767676" stroke-width="1"/>
<line x1="520" y1="412.6" x2="469.8" y2="412.6" stroke="#767676" stroke-width="1"/>
<defs><pattern id="hp" x="89.9" y="373.2" width="3.911" height="4.66" patternUnits="userSpaceOnUse">
<rect width="3.911" height="4.66" fill="#505050"/>
<rect x="0" y="0" width="3.911" height="1.2" fill="#ececec"/>
<rect x="0.806" y="2.2" width="2.3" height="1.6" fill="#fafafa"/>
</pattern></defs>
<rect x="88.7" y="370.0" width="37.599999999999994" height="43.69999999999999" fill="#505050" stroke="none"/>
<rect x="89.9" y="373.2" width="35.199999999999996" height="37.28" fill="url(#hp)" stroke="none"/>
<rect x="89.9" y="410.5" width="35.199999999999996" height="1.1" fill="#ececec" stroke="none"/>
<line x1="92.2" y1="371.7" x2="122.8" y2="371.7" stroke="#e0e0e0" stroke-width="1.0"/>
<line x1="92.2" y1="412.4" x2="122.8" y2="412.4" stroke="#e0e0e0" stroke-width="1.0"/>
<rect x="88.7" y="370.0" width="37.599999999999994" height="43.69999999999999" fill="none" stroke="#3a3a3a" stroke-width="1"/>
<defs><pattern id="hp2" x="521.1" y="373.2" width="3.911" height="4.66" patternUnits="userSpaceOnUse">
<rect width="3.911" height="4.66" fill="#505050"/>
<rect x="0" y="0" width="3.911" height="1.2" fill="#ececec"/>
<rect x="0.806" y="2.2" width="2.3" height="1.6" fill="#fafafa"/>
</pattern></defs>
<rect x="519.9" y="370.0" width="37.60000000000002" height="43.69999999999999" fill="#505050" stroke="none"/>
<rect x="521.1" y="373.2" width="35.200000000000024" height="37.28" fill="url(#hp2)" stroke="none"/>
<rect x="521.1" y="410.5" width="35.200000000000024" height="1.1" fill="#ececec" stroke="none"/>
<line x1="523.4" y1="371.7" x2="554.0" y2="371.7" stroke="#e0e0e0" stroke-width="1.0"/>
<line x1="523.4" y1="412.4" x2="554.0" y2="412.4" stroke="#e0e0e0" stroke-width="1.0"/>
<rect x="519.9" y="370.0" width="37.60000000000002" height="43.69999999999999" fill="none" stroke="#3a3a3a" stroke-width="1"/>
<polygon points="137.5,319.7 140.1,319.7 141.7,325.3 137.5,325.3" fill="#b8b8b8" stroke="none" stroke-width="0" stroke-linejoin="round"/>
<line x1="139.79999999999998" y1="319.40000000000003" x2="141.79999999999998" y2="325.1" stroke="#444" stroke-width="1.9"/>
<line x1="146.0" y1="319.40000000000003" x2="144.0" y2="325.1" stroke="#4a4a4a" stroke-width="1.9"/>
<polygon points="137.5,338.90000000000003 140.1,338.90000000000003 141.7,333.3 137.5,333.3" fill="#b8b8b8" stroke="none" stroke-width="0" stroke-linejoin="round"/>
<line x1="139.79999999999998" y1="339.2" x2="141.79999999999998" y2="333.5" stroke="#444" stroke-width="1.9"/>
<line x1="146.0" y1="339.2" x2="144.0" y2="333.5" stroke="#4a4a4a" stroke-width="1.9"/>
<circle cx="142.7" cy="329.3" r="5.5" fill="#fff" stroke="#333" stroke-width="1.2"/>
<circle cx="142.7" cy="329.3" r="3.6" fill="none" stroke="#333" stroke-width="1.1"/>
<circle cx="142.7" cy="329.3" r="1.6" fill="none" stroke="#555" stroke-width="0.8"/>
<rect x="147.1" y="323.3" width="3.9000000000000057" height="11.800000000000011" fill="none" stroke="#767676" stroke-width="0.9"/>
<rect x="151.0" y="326.90000000000003" width="2.0" height="5.0" fill="none" stroke="#767676" stroke-width="0.9"/>
<polygon points="137.5,447.4 140.1,447.4 141.7,453 137.5,453" fill="#b8b8b8" stroke="none" stroke-width="0" stroke-linejoin="round"/>
<line x1="139.79999999999998" y1="447.1" x2="141.79999999999998" y2="452.8" stroke="#444" stroke-width="1.9"/>
<line x1="146.0" y1="447.1" x2="144.0" y2="452.8" stroke="#4a4a4a" stroke-width="1.9"/>
<polygon points="137.5,466.6 140.1,466.6 141.7,461 137.5,461" fill="#b8b8b8" stroke="none" stroke-width="0" stroke-linejoin="round"/>
<line x1="139.79999999999998" y1="466.9" x2="141.79999999999998" y2="461.2" stroke="#444" stroke-width="1.9"/>
<line x1="146.0" y1="466.9" x2="144.0" y2="461.2" stroke="#4a4a4a" stroke-width="1.9"/>
<circle cx="142.7" cy="457" r="5.5" fill="#fff" stroke="#333" stroke-width="1.2"/>
<circle cx="142.7" cy="457" r="3.6" fill="none" stroke="#333" stroke-width="1.1"/>
<circle cx="142.7" cy="457" r="1.6" fill="none" stroke="#555" stroke-width="0.8"/>
<rect x="147.1" y="451" width="3.9000000000000057" height="11.800000000000011" fill="none" stroke="#767676" stroke-width="0.9"/>
<rect x="151.0" y="454.6" width="2.0" height="5.0" fill="none" stroke="#767676" stroke-width="0.9"/>
<polygon points="496.7,319.59999999999997 494.1,319.59999999999997 492.5,325.2 496.7,325.2" fill="#b8b8b8" stroke="none" stroke-width="0" stroke-linejoin="round"/>
<line x1="494.4" y1="319.3" x2="492.4" y2="325.0" stroke="#444" stroke-width="1.9"/>
<line x1="488.2" y1="319.3" x2="490.2" y2="325.0" stroke="#4a4a4a" stroke-width="1.9"/>
<polygon points="496.7,338.8 494.1,338.8 492.5,333.2 496.7,333.2" fill="#b8b8b8" stroke="none" stroke-width="0" stroke-linejoin="round"/>
<line x1="494.4" y1="339.09999999999997" x2="492.4" y2="333.4" stroke="#444" stroke-width="1.9"/>
<line x1="488.2" y1="339.09999999999997" x2="490.2" y2="333.4" stroke="#4a4a4a" stroke-width="1.9"/>
<circle cx="491.5" cy="329.2" r="5.5" fill="#fff" stroke="#333" stroke-width="1.2"/>
<circle cx="491.5" cy="329.2" r="3.6" fill="none" stroke="#333" stroke-width="1.1"/>
<circle cx="491.5" cy="329.2" r="1.6" fill="none" stroke="#555" stroke-width="0.8"/>
<rect x="483.2" y="323.2" width="3.900000000000034" height="11.800000000000011" fill="none" stroke="#767676" stroke-width="0.9"/>
<rect x="481.2" y="326.8" width="2.0" height="5.0" fill="none" stroke="#767676" stroke-width="0.9"/>
<polygon points="496.59999999999997,447.4 494.0,447.4 492.4,453 496.59999999999997,453" fill="#b8b8b8" stroke="none" stroke-width="0" stroke-linejoin="round"/>
<line x1="494.29999999999995" y1="447.1" x2="492.29999999999995" y2="452.8" stroke="#444" stroke-width="1.9"/>
<line x1="488.09999999999997" y1="447.1" x2="490.09999999999997" y2="452.8" stroke="#4a4a4a" stroke-width="1.9"/>
<polygon points="496.59999999999997,466.6 494.0,466.6 492.4,461 496.59999999999997,461" fill="#b8b8b8" stroke="none" stroke-width="0" stroke-linejoin="round"/>
<line x1="494.29999999999995" y1="466.9" x2="492.29999999999995" y2="461.2" stroke="#444" stroke-width="1.9"/>
<line x1="488.09999999999997" y1="466.9" x2="490.09999999999997" y2="461.2" stroke="#4a4a4a" stroke-width="1.9"/>
<circle cx="491.4" cy="457" r="5.5" fill="#fff" stroke="#333" stroke-width="1.2"/>
<circle cx="491.4" cy="457" r="3.6" fill="none" stroke="#333" stroke-width="1.1"/>
<circle cx="491.4" cy="457" r="1.6" fill="none" stroke="#555" stroke-width="0.8"/>
<rect x="483.09999999999997" y="451" width="3.900000000000034" height="11.800000000000011" fill="none" stroke="#767676" stroke-width="0.9"/>
<rect x="481.09999999999997" y="454.6" width="2.0" height="5.0" fill="none" stroke="#767676" stroke-width="0.9"/>
</svg>
</body></html>
